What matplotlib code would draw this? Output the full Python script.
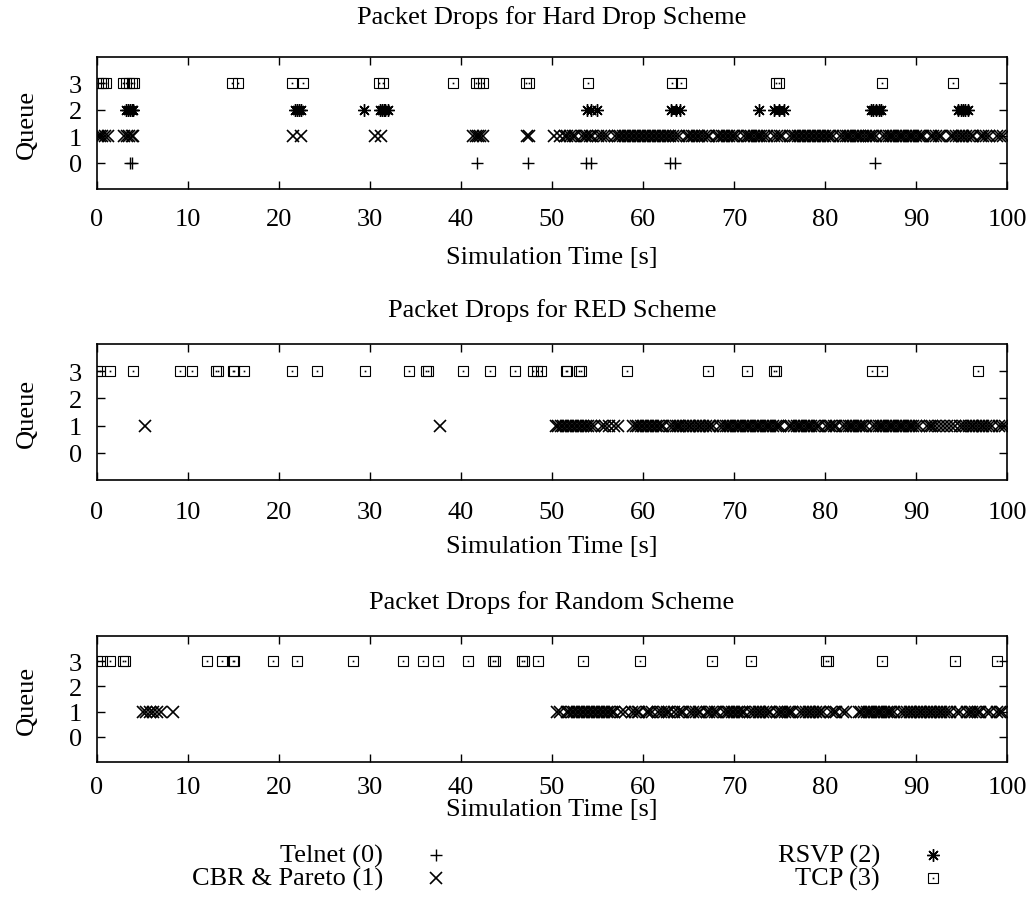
import matplotlib
matplotlib.use('Agg')
import matplotlib.pyplot as plt
from matplotlib.lines import Line2D

plt.rcParams['font.family'] = ['Liberation Serif', 'DejaVu Serif']
plt.rcParams['font.size'] = 19

# ---------------- data ----------------
titles = ['Packet Drops for Hard Drop Scheme',
          'Packet Drops for RED Scheme',
          'Packet Drops for Random Scheme']
series_labels = ['Telnet (0)', 'CBR & Pareto (1)', 'RSVP (2)', 'TCP (3)']
x_ticks = [0, 10, 20, 30, 40, 50, 60, 70, 80, 90, 100]
y_ticks = [0, 1, 2, 3]
x_label = 'Simulation Time [s]'
y_label = 'Queue'

# Hard Drop scheme
hard_telnet = [3.6, 3.9, 41.8, 47.4, 53.7, 54.3, 63.0, 63.5, 85.5]
hard_cbr = [0.1, 0.3, 0.6, 0.9, 1.2, 3.0, 3.3, 3.5, 3.8, 4.0,
            21.5, 22.4, 30.5, 31.2, 41.3, 41.6, 41.9, 42.1, 42.4, 47.3, 47.5,
            50.2, 50.9, 51.4, 51.7, 52.0, 52.3, 52.5, 53.3, 53.6, 53.9, 54.2, 54.4,
            55.1, 55.4, 55.7, 56.0, 56.9, 57.2, 57.5, 57.8, 58.0, 58.3, 58.6, 58.9,
            59.1, 59.4, 59.7, 60.0, 60.2, 60.5, 60.8, 61.1, 61.3, 61.6, 61.9, 62.2,
            62.4, 62.7, 63.0, 63.3, 63.6, 64.0, 64.8, 65.1, 65.4, 65.6, 65.9, 66.2,
            66.5, 66.8, 67.1, 67.3, 68.1, 68.4, 68.7, 68.9, 69.2, 69.5, 69.8, 70.0,
            70.3, 71.1, 71.4, 71.7, 71.9, 72.2, 72.5, 72.8, 73.0, 73.3, 73.6, 74.4,
            74.7, 75.0, 75.3, 76.2, 76.5, 76.7, 77.0, 77.3, 77.6, 77.8, 78.1, 78.4,
            78.7, 78.9, 79.2, 79.5, 79.8, 80.0, 80.3, 80.6, 80.9, 81.7, 82.0, 82.3,
            82.5, 82.8, 83.1, 83.4, 83.6, 83.9, 84.2, 84.5, 84.8, 85.0, 85.3, 85.6,
            86.4, 86.7, 87.0, 87.2, 87.5, 87.8, 88.1, 88.3, 88.6, 88.9, 89.2, 89.4,
            89.7, 90.0, 90.3, 90.5, 90.8, 91.6, 91.9, 92.2, 92.5, 92.8, 93.8, 94.1,
            94.4, 94.7, 95.0, 95.2, 95.5, 95.8, 96.1, 96.3, 97.1, 97.4, 97.7, 98.0,
            98.9, 99.2, 99.6]
hard_rsvp = [3.2, 3.4, 3.6, 3.8, 4.0, 21.8, 22.0, 22.2, 22.4, 29.3,
             31.1, 31.3, 31.5, 31.7, 32.0, 53.8, 54.3, 54.9, 63.1, 63.6, 64.1,
             72.8, 74.4, 74.9, 75.5, 85.0, 85.3, 85.6, 85.9, 86.2,
             94.6, 94.9, 95.2, 95.4, 95.7]
hard_tcp = [0.1, 0.4, 0.7, 1.0, 2.9, 3.2, 3.5, 3.8, 4.1, 14.8, 15.5,
            21.4, 22.6, 31.0, 31.4, 39.1, 41.6, 42.0, 42.4, 47.1, 47.5,
            54.0, 63.2, 64.2, 74.6, 74.9, 86.3, 94.1]

# RED scheme
red_telnet = []
red_cbr = [5.3, 37.7,
           50.4, 50.7, 51.0, 51.2, 51.5, 51.8, 52.1, 52.3, 52.6, 52.9, 53.2, 53.4,
           53.7, 54.0, 54.3, 54.6, 55.5, 55.8, 56.3, 56.8, 57.3, 58.9, 59.2, 59.5,
           59.8, 60.0, 60.3, 60.6, 60.9, 61.1, 61.4, 61.7, 62.0, 62.2, 63.0, 63.3,
           63.6, 63.9, 64.1, 64.4, 64.7, 65.0, 65.2, 65.5, 65.8, 66.1, 66.3, 66.6,
           66.9, 67.2, 67.4, 67.7, 68.5, 68.8, 69.1, 69.3, 69.6, 69.9, 70.2, 70.4,
           70.7, 71.0, 71.3, 71.5, 71.8, 72.1, 72.4, 72.6, 72.9, 73.2, 73.5, 73.7,
           74.0, 74.3, 74.6, 74.8, 75.1, 76.0, 76.3, 76.6, 76.9, 77.1, 77.4, 77.7,
           78.0, 78.2, 78.5, 78.8, 79.1, 79.3, 80.1, 80.4, 80.7, 81.0, 81.2, 82.0,
           82.3, 82.6, 82.9, 83.1, 83.4, 83.7, 84.0, 84.2, 84.5, 85.3, 85.6, 85.9,
           86.2, 86.4, 86.7, 87.0, 87.3, 87.5, 87.8, 88.1, 88.4, 88.6, 88.9, 89.2,
           89.5, 89.7, 90.0, 90.3, 91.2, 91.5, 91.8, 92.1, 92.5, 93.0, 93.4, 93.9,
           94.3, 94.8, 95.2, 95.5, 95.8, 96.1, 96.3, 96.6, 96.9, 97.2, 97.4, 97.7,
           98.0, 98.3, 99.1, 99.4, 99.8]
red_rsvp = []
red_tcp = [0.0, 0.3, 1.4, 4.0, 9.1, 10.4, 13.1, 13.3, 14.9, 15.1, 16.2,
           21.4, 24.2, 29.5, 34.3, 36.2, 36.4, 40.2, 43.2, 45.9, 47.9, 48.3,
           48.8, 51.5, 51.7, 53.0, 53.2, 58.2, 67.1, 71.4, 74.4, 74.6,
           85.2, 86.3, 96.8]

# Random scheme
rand_telnet = []
rand_cbr = [5.0, 5.4, 5.8, 6.2, 6.6, 7.0, 8.4,
            50.6, 50.9, 51.6, 51.9, 52.2, 52.4, 52.7, 53.0, 53.3, 53.5, 53.8, 54.1,
            54.4, 54.6, 54.9, 55.2, 55.5, 55.7, 56.0, 56.3, 56.6, 56.8, 57.6, 58.0,
            58.8, 59.1, 59.4, 59.6, 60.4, 60.7, 61.0, 61.7, 62.0, 62.3, 62.6, 62.9,
            63.4, 63.9, 64.2, 64.4, 65.2, 65.5, 65.8, 66.1, 66.3, 67.0, 67.3, 67.6,
            67.9, 68.1, 68.9, 69.2, 69.5, 69.8, 70.0, 70.3, 70.6, 70.9, 71.1, 71.8,
            72.1, 72.4, 72.7, 72.9, 73.2, 73.5, 73.8, 74.0, 74.7, 75.0, 75.3, 75.6,
            75.9, 76.1, 76.4, 77.3, 77.6, 77.9, 78.2, 78.4, 78.7, 79.0, 79.3, 79.5,
            79.8, 80.7, 81.0, 81.2, 82.0, 82.3, 83.7, 84.0, 84.3, 84.6, 84.8, 85.1,
            85.4, 85.7, 85.9, 86.2, 86.5, 86.8, 87.0, 87.3, 87.6, 88.4, 88.7, 89.0,
            89.3, 89.5, 89.8, 90.1, 90.4, 90.6, 90.9, 91.2, 91.5, 91.7, 92.0, 92.3,
            92.6, 92.8, 93.1, 93.4, 93.7, 94.5, 94.8, 95.6, 95.9, 96.2, 96.5, 96.8,
            97.0, 97.8, 98.1, 98.9, 99.2, 99.5]
rand_rsvp = []
rand_tcp = [0.0, 0.5, 1.4, 2.9, 3.1, 12.1, 13.7, 14.9, 15.1, 19.3, 22.0,
            28.1, 33.6, 35.8, 37.5, 40.8, 43.5, 43.7, 46.7, 46.9, 48.5,
            53.4, 59.7, 67.6, 71.9, 80.1, 80.3, 86.3, 94.3, 98.9]

schemes = [
    (hard_telnet, hard_cbr, hard_rsvp, hard_tcp),
    (red_telnet, red_cbr, red_rsvp, red_tcp),
    (rand_telnet, rand_cbr, rand_rsvp, rand_tcp),
]
queue_ids = [0, 1, 2, 3]

# ---------------- styles ----------------
W, H = 1034, 920
fig = plt.figure(figsize=(W / 100, H / 100), dpi=100)

ax_left, ax_right = 97, 1007
panels_px = [(58, 190), (345, 481), (637, 763)]  # (top, bottom) in pixels
title_offset = [40, 34, 34]
xtick_pad = [14, 15, 10]
xlabel_pad = [11, 9, 0]

mstyles = [
    dict(marker='+', ms=8.0, mew=1.0),
    dict(marker='x', ms=8.0, mew=1.2),
    dict(marker=(8, 2, 0), ms=9.0, mew=1.0),
    dict(marker='s', ms=6.5, mew=0.8, mfc='none'),
]


def draw_series(ax, xs, qid, style):
    if len(xs) == 0:
        return
    ax.plot(xs, [qid] * len(xs), ls='none', color='black', **style)
    if style['marker'] == 's':
        ax.plot(xs, [qid] * len(xs), ls='none', color='black',
                marker='s', ms=1.2, mew=0)


for i, (series, title) in enumerate(zip(schemes, titles)):
    top, bot = panels_px[i]
    ax = fig.add_axes([ax_left / W, 1 - bot / H,
                       (ax_right - ax_left) / W, (bot - top) / H])
    for xs, qid, st in zip(series, queue_ids, mstyles):
        draw_series(ax, xs, qid, st)
    ax.set_xlim(0, 100)
    ax.set_ylim(-1, 4)
    ax.set_xticks(x_ticks)
    ax.set_yticks(y_ticks)
    ax.tick_params(direction='in', length=6, width=1.0,
                   top=True, right=True, labelsize=19)
    ax.tick_params(axis='x', pad=xtick_pad[i])
    ax.tick_params(axis='y', pad=11)
    for sp in ax.spines.values():
        sp.set_linewidth(1.2)
    ax.set_xlabel(x_label, fontsize=19, labelpad=xlabel_pad[i])
    ax.set_ylabel(y_label, fontsize=19, labelpad=22)
    fig.text((ax_left + ax_right) / 2 / W, 1 - (top - title_offset[i]) / H, title,
             ha='center', va='center', fontsize=19)

# ---------------- legend ----------------
legend_cols = [(383, 436), (880, 933)]
legend_rows = [856, 879]
for k, lab in enumerate(series_labels):
    col, row = divmod(k, 2)
    tx, mx = legend_cols[col]
    ty = legend_rows[row]
    fig.text(tx / W, 1 - ty / H, lab, ha='right', va='center', fontsize=19)
    st = mstyles[k]
    fig.add_artist(Line2D([mx / W], [1 - ty / H], transform=fig.transFigure,
                          ls='none', color='black', **st))
    if st['marker'] == 's':
        fig.add_artist(Line2D([mx / W], [1 - ty / H], transform=fig.transFigure,
                              ls='none', color='black', marker='s', ms=1.2, mew=0))

fig.savefig('out.png', dpi=100)
